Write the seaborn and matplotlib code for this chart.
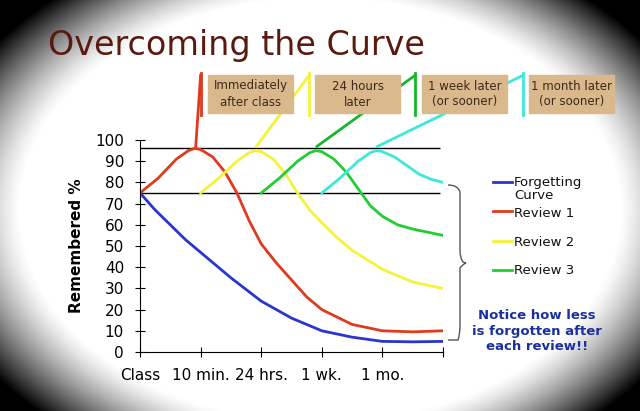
import numpy as np
import pandas as pd
import matplotlib
matplotlib.use("Agg")
import matplotlib.pyplot as plt
from matplotlib.path import Path
from matplotlib.patches import PathPatch
import seaborn as sns

tick_labels = ["Class", "10 min.", "24 hrs.", "1 wk.", "1 mo.", ""]
forget_x = [0, 0.25, 0.5, 0.75, 1, 1.25, 1.5, 1.75, 2, 2.5, 3, 3.5, 4, 4.5, 5]
forget_y = [75, 67, 60, 53, 47, 41, 35, 29.5, 24, 16, 10, 7, 5, 4.8, 5]
rev1_x = [0, 0.3, 0.6, 0.8, 0.9, 1.0, 1.2, 1.4, 1.6, 1.8, 2.0, 2.25, 2.5, 2.75, 3.0, 3.5, 4.0, 4.5, 5.0]
rev1_y = [75, 82, 91, 95, 96, 95.5, 92, 85, 75, 62, 51, 42, 34, 26, 20, 13, 10, 9.5, 10]
rev2_x = [1.0, 1.3, 1.6, 1.8, 1.9, 2.0, 2.2, 2.4, 2.6, 2.8, 3.0, 3.25, 3.5, 4.0, 4.5, 5.0]
rev2_y = [75, 82, 90, 94, 95, 94.5, 91, 84, 75, 67, 61, 54, 48, 39, 33, 30]
rev3_x = [2.0, 2.3, 2.6, 2.8, 2.9, 3.0, 3.2, 3.4, 3.6, 3.8, 4.0, 4.25, 4.5, 5.0]
rev3_y = [75, 82, 90, 94, 95, 94.5, 91, 85, 77, 69, 64, 60, 58, 55]
rev4_x = [3.0, 3.3, 3.6, 3.8, 3.9, 4.0, 4.2, 4.4, 4.6, 4.8, 5.0]
rev4_y = [75, 82, 90, 94, 95, 94.5, 92, 88, 84, 81.5, 80]
series_names = ["Forgetting Curve", "Review 1", "Review 2", "Review 3", "Review 4"]
box_texts = ["Immediately\nafter class", "24 hours\nlater", "1 week later\n(or sooner)", "1 month later\n(or sooner)"]

colors = {"Forgetting Curve": "#2a35d0", "Review 1": "#e03a1e", "Review 2": "#f4f23a",
          "Review 3": "#22cc33", "Review 4": "#3de8d8"}

frames = []
for name, xs, ys in zip(series_names, [forget_x, rev1_x, rev2_x, rev3_x, rev4_x],
                        [forget_y, rev1_y, rev2_y, rev3_y, rev4_y]):
    frames.append(pd.DataFrame({"x": xs, "y": ys, "series": name}))
df = pd.concat(frames)

fig = plt.figure(figsize=(6.4, 4.11), dpi=100)
W, H = 640, 411

bg = fig.add_axes([0, 0, 1, 1], zorder=-10)
yy, xx = np.mgrid[0:H, 0:W]
r = np.sqrt(((xx - 320) / 340) ** 2 + ((yy - 210) / 240) ** 2)
v = np.clip((r - 0.88) / 0.3, 0, 1) ** 1.3
bg.imshow(1 - v, cmap="gray", vmin=0, vmax=1, aspect="auto", extent=[0, 1, 0, 1])
bg.axis("off")

ax = fig.add_axes([140 / W, 1 - 352 / H, (443 - 140) / W, (352 - 140) / H])
ax.patch.set_alpha(0)
sns.lineplot(data=df, x="x", y="y", hue="series", palette=colors, sort=False,
             linewidth=2, legend=False, ax=ax, estimator=None)
ax.set_xlim(0, 5)
ax.set_ylim(0, 100)
ax.set_xticks(range(6))
ax.set_xticklabels(tick_labels, fontsize=11)
ax.set_yticks(range(0, 101, 10))
ax.tick_params(labelsize=11, direction="inout", length=7, pad=8)
for s in ["top", "right"]:
    ax.spines[s].set_visible(False)
ax.set_xlabel("")
ax.set_ylabel("Remembered %", fontsize=11, fontweight="bold", labelpad=8)
ax.hlines([96, 75], 0, 4.95, color="black", lw=1, zorder=0)

peak_x = [0.92, 1.92, 2.92, 3.92]
end_x = [1.0, 2.79, 4.54, 6.32]
line_cols = ["#e03a1e", "#f4f23a", "#14b82a", "#3de8d8"]
for px, ex, c in zip(peak_x, end_x, line_cols):
    ax.plot([px, ex], [97, 130.5], color=c, lw=2, clip_on=False)
    ax.plot([ex, ex], [112, 131.5], color=c, lw=2, clip_on=False)

box_left = [208, 315, 422, 529]
for bl, t in zip(box_left, box_texts):
    fig.patches.append(plt.Rectangle((bl / W, 1 - 113 / H), 85 / W, 38 / H,
                                     transform=fig.transFigure, color="#d9b88c", zorder=1))
    fig.text((bl + 42.5) / W, 1 - 94 / H, t, ha="center", va="center", fontsize=8.5,
             color="#3a2a1a", linespacing=1.3)

fig.text(48 / W, 1 - 45 / H, "Overcoming the Curve", fontsize=24, color="#5a1a10",
         va="center", ha="left")

leg = [("Forgetting\nCurve", "Forgetting Curve", 189, 182), ("Review 1", "Review 1", 213, 211),
       ("Review 2", "Review 2", 242, 241), ("Review 3", "Review 3", 271, 270)]
for txt, key, yp, ly in leg:
    fig.lines.append(plt.Line2D([493 / W, 512 / W], [1 - ly / H] * 2,
                                transform=fig.transFigure, color=colors[key], lw=2))
    fig.text(514 / W, 1 - yp / H, txt, fontsize=9.5, va="center", ha="left", color="#111111",
             linespacing=1.0)

# brace drawn as path in pixel coords
def P(x, y):
    return (x / W, 1 - y / H)
verts = [P(448, 185), P(458, 185), P(460, 192), P(460, 200),
         P(460, 250), P(460, 258), P(463, 262), P(466, 263),
         P(463, 264), P(460, 268), P(460, 276),
         P(460, 325), P(460, 335), P(458, 340), P(448, 340)]
codes = [Path.MOVETO, Path.CURVE3, Path.CURVE3, Path.LINETO,
         Path.LINETO, Path.CURVE3, Path.CURVE3, Path.LINETO,
         Path.CURVE3, Path.CURVE3, Path.LINETO,
         Path.LINETO, Path.CURVE3, Path.CURVE3, Path.LINETO]
fig.patches.append(PathPatch(Path(verts[:-1] + [verts[-1]], codes), fill=False,
                             edgecolor="#555555", lw=1, transform=fig.transFigure))

fig.text(537 / W, 1 - 331 / H, "Notice how less\nis forgotten after\neach review!!",
         fontsize=9.5, fontweight="bold", color="#1a2fa0", ha="center", va="center",
         linespacing=1.25)

fig.savefig("out.png", dpi=100)
